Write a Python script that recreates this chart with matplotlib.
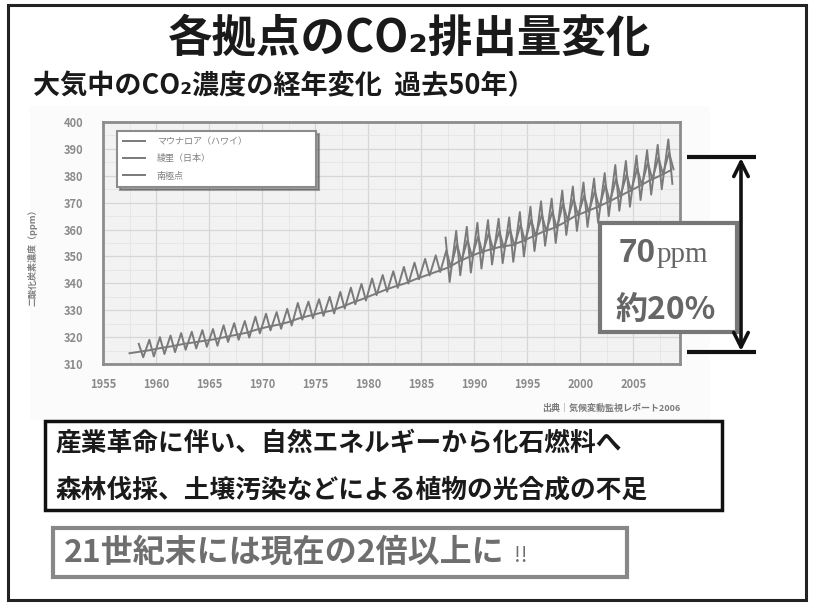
import numpy as np
import matplotlib
matplotlib.use('Agg')
import matplotlib.pyplot as plt
from matplotlib.patches import Rectangle
from matplotlib.lines import Line2D

plt.rcParams['font.family'] = ['Noto Sans CJK JP', 'DejaVu Sans']

# Mauna Loa (Hawaii): yearly seasonal peak / trough, 1958-2008
mlo_years = np.arange(1958, 2009)
mlo_peak = [317.5, 319.0, 320.0, 320.6, 321.5, 322.0, 322.6, 323.0, 324.4, 325.2,
            326.0, 327.6, 328.7, 329.3, 330.5, 332.7, 333.2, 334.1, 335.0, 336.8,
            338.4, 339.8, 341.8, 343.1, 344.5, 346.1, 347.7, 349.1, 350.4, 352.2,
            354.6, 356.1, 357.4, 358.6, 359.4, 360.1, 361.8, 363.8, 365.6, 366.7,
            369.7, 371.4, 372.7, 374.3, 376.5, 378.8, 380.5, 382.8, 384.9, 386.8,
            388.6]
mlo_trough = [312.5, 312.8, 313.7, 314.4, 315.3, 315.8, 316.4, 316.8, 318.2, 319.0,
              319.8, 321.4, 322.5, 323.1, 324.3, 326.5, 327.0, 327.9, 328.8, 330.6,
              332.2, 333.6, 335.6, 336.9, 338.3, 339.9, 341.5, 342.9, 344.2, 346.0,
              348.4, 349.9, 351.2, 352.4, 353.2, 353.9, 355.6, 357.6, 359.4, 360.5,
              363.5, 365.2, 366.5, 368.1, 370.3, 372.6, 374.3, 376.6, 378.7, 380.6,
              382.4]

# Ryori (Japan): yearly seasonal peak / trough, 1987-2008
ryo_years = np.arange(1987, 2009)
ryo_peak = [357.0, 359.5, 361.0, 362.5, 363.5, 364.0, 364.5, 366.5, 368.5, 370.5,
            371.5, 374.5, 376.0, 377.5, 379.0, 381.0, 384.0, 385.5, 387.5, 389.5,
            391.5, 393.5]
ryo_trough = [340.5, 343.0, 344.0, 345.5, 347.0, 347.5, 348.0, 350.0, 352.0, 354.0,
              355.0, 358.0, 359.5, 361.0, 362.5, 365.0, 367.0, 368.5, 371.0, 373.0,
              375.0, 377.0]

# South Pole: yearly values, 1957-2008
sp_years = np.arange(1957, 2009)
sp_vals = [314.0, 314.6, 315.2, 316.0, 316.6, 317.4, 318.0, 318.6, 319.2, 320.0,
           320.8, 321.6, 322.8, 323.8, 324.6, 325.6, 327.0, 328.0, 329.0, 329.8,
           331.2, 332.8, 334.2, 335.8, 337.4, 338.8, 340.0, 341.6, 343.0, 344.4,
           345.8, 348.0, 349.8, 351.4, 352.6, 353.6, 354.2, 355.6, 357.4, 359.2,
           360.6, 362.6, 365.0, 366.6, 368.2, 370.0, 372.0, 374.0, 376.0, 378.2,
           380.0, 382.0]

legend_labels = ['マウナロア（ハワイ）', '綾里（日本）', '南極点']
x_ticks = [1955, 1960, 1965, 1970, 1975, 1980, 1985, 1990, 1995, 2000, 2005]
y_ticks = [310, 320, 330, 340, 350, 360, 370, 380, 390, 400]

W, H = 814, 608
fig = plt.figure(figsize=(W / 100, H / 100), dpi=100)
fig.patch.set_facecolor('white')

# background layer in pixel coordinates
bg = fig.add_axes([0, 0, 1, 1], zorder=0)
bg.set_xlim(0, W)
bg.set_ylim(H, 0)
bg.axis('off')
bg.add_patch(Rectangle((30, 106), 680, 314, facecolor='#fbfbfb', edgecolor='none'))

# chart
ax = fig.add_axes([103 / W, (H - 364) / H, 577 / W, 242 / H], zorder=1)
ax.set_facecolor('#f2f2f2')
line_color = '#7a7a7a'


def zigzag(years, peaks, troughs, p_off, t_off):
    xs = np.column_stack([years + p_off, years + t_off]).ravel()
    ys = np.column_stack([peaks, troughs]).ravel()
    return xs, ys


x, y = zigzag(mlo_years, mlo_peak, mlo_trough, 0.37, 0.79)
ax.plot(x, y, color=line_color, lw=1.4)
x, y = zigzag(ryo_years, ryo_peak, ryo_trough, 0.30, 0.68)
ax.plot(x, y, color=line_color, lw=1.4)
ax.plot(sp_years + 0.5, sp_vals, color=line_color, lw=1.4)

ax.set_xlim(1955, 2009.4)
ax.set_ylim(310, 400)
ax.set_xticks(x_ticks)
ax.set_yticks(y_ticks)
ax.set_xticks(np.arange(1955, 2010, 2.5), minor=True)
ax.set_yticks(np.arange(310, 401, 5), minor=True)
ax.grid(True, which='major', color='#d6d6d6', lw=0.9)
ax.grid(True, which='minor', color='#e4e4e4', lw=0.6)
ax.set_axisbelow(True)
ax.tick_params(which='both', length=0)
ax.tick_params(axis='y', pad=14, labelsize=8, labelcolor='#8a8a8a')
ax.tick_params(axis='x', pad=10, labelsize=8, labelcolor='#8a8a8a')
for lab in ax.get_xticklabels() + ax.get_yticklabels():
    lab.set_fontweight('bold')
for s in ax.spines.values():
    s.set_color('#8c8c8c')
    s.set_linewidth(2)

ax.set_ylabel('二酸化炭素濃度（ppm）', fontsize=6.5, color='#808080', fontweight='bold')
ax.yaxis.set_label_coords(-0.114, 0.45)

handles = [Line2D([], [], color=line_color, lw=1.4) for _ in legend_labels]
leg = ax.legend(handles, legend_labels, loc='upper left', mode='expand',
                bbox_to_anchor=(0.024, 0.694, 0.345, 0.269), borderaxespad=0,
                fontsize=6.5, labelspacing=0.9, borderpad=0.7, handlelength=2.4,
                handletextpad=1.3, fancybox=False, shadow=True, framealpha=1,
                edgecolor='#8c8c8c', labelcolor='#808080')
leg.get_frame().set_linewidth(1.5)

# overlay layer in pixel coordinates
ov = fig.add_axes([0, 0, 1, 1], zorder=2)
ov.set_xlim(0, W)
ov.set_ylim(H, 0)
ov.axis('off')
ov.patch.set_alpha(0)

# outer frame
ov.add_patch(Rectangle((8, 5), 798, 595, facecolor='none', edgecolor='#222222', lw=2.2))

ov.text(410, 39, '各拠点のCO₂排出量変化', fontsize=32, fontweight='bold',
        ha='center', va='center', color='#1a1a1a')
ov.text(33, 86, '大気中のCO₂濃度の経年変化  過去50年）', fontsize=19.5, fontweight='bold',
        ha='left', va='center', color='#1a1a1a')

ov.text(680, 408, '出典｜気候変動監視レポート2006', fontsize=6.5, fontweight='bold',
        ha='right', va='center', color='#7a7a7a')

# range arrow
ov.plot([687, 756], [157, 157], color='#111111', lw=3, solid_capstyle='butt')
ov.plot([687, 756], [352, 352], color='#111111', lw=3, solid_capstyle='butt')
ov.annotate('', xy=(741, 158), xytext=(741, 351),
            arrowprops=dict(arrowstyle='<->', lw=2.6, color='#111111', mutation_scale=26,
                            shrinkA=0, shrinkB=0))

ov.add_patch(Rectangle((600, 223), 137, 109, facecolor='white', edgecolor='#777777', lw=3))
ov.text(656, 262, '70', fontsize=24, fontweight='bold', ha='right', va='baseline',
        color='#666666', family=['Liberation Sans', 'DejaVu Sans'])
ov.text(657, 262, 'ppm', fontsize=21, ha='left', va='baseline',
        color='#666666', family=['Liberation Serif', 'DejaVu Serif'])
ov.text(666, 310, '約20%', fontsize=23, fontweight='bold', ha='center', va='center',
        color='#666666')

# causes box
ov.add_patch(Rectangle((45, 421), 677, 89, facecolor='white', edgecolor='#111111', lw=2.5))
ov.text(55, 443, '産業革命に伴い、自然エネルギーから化石燃料へ', fontsize=18.5,
        fontweight='bold', ha='left', va='center', color='#1a1a1a')
ov.text(55, 490, '森林伐採、土壌汚染などによる植物の光合成の不足', fontsize=18.5,
        fontweight='bold', ha='left', va='center', color='#1a1a1a')

# forecast box
ov.add_patch(Rectangle((53, 528), 574, 49, facecolor='white', edgecolor='#888888', lw=3))
ov.text(64, 553, '21世紀末には現在の2倍以上に', fontsize=23, fontweight='bold',
        style='italic', ha='left', va='center', color='#6e6e6e')
ov.text(514, 556, '!!', fontsize=15, ha='left', va='center', color='#6e6e6e')

fig.savefig('out.png', dpi=100, facecolor='white')
